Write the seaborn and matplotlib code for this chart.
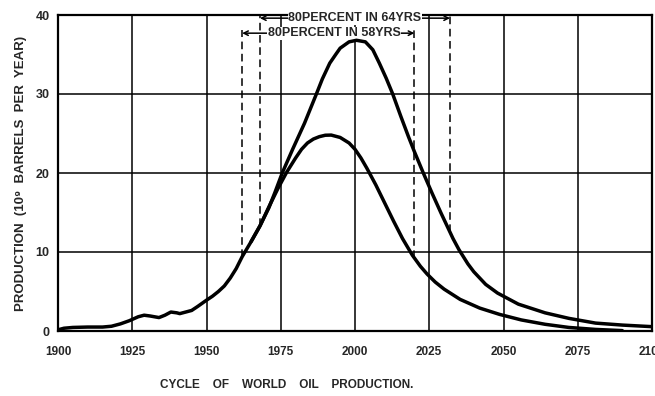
import matplotlib
matplotlib.use("Agg")
import matplotlib.pyplot as plt
import numpy as np
import seaborn as sns

# world production history, shared by both curves (10^9 barrels per year)
hist_years = [1900, 1902, 1905, 1910, 1915, 1918, 1921, 1924, 1927, 1929, 1931, 1934,
              1936, 1938, 1940, 1941, 1943, 1945, 1947, 1950, 1952, 1954, 1956, 1958,
              1960, 1962, 1965]
hist_prod = [0.15, 0.35, 0.45, 0.5, 0.5, 0.6, 0.9, 1.3, 1.8, 2.0, 1.9, 1.7,
             2.0, 2.4, 2.3, 2.2, 2.4, 2.6, 3.1, 3.9, 4.4, 5.0, 5.7, 6.7,
             7.9, 9.4, 11.3]

# larger ultimate resource
high_years = [1968, 1971, 1973, 1975.5, 1979, 1983, 1987, 1989, 1991.5, 1993.5, 1995,
              1998, 2000.5, 2003.5, 2006, 2008.2, 2010.5, 2012.7, 2015.4, 2018, 2020,
              2023, 2026, 2029, 2031, 2033, 2035, 2038, 2040, 2044, 2048, 2055, 2064,
              2072, 2081, 2090, 2100]
high_prod = [13.3, 15.6, 17.5, 20.0, 23.0, 26.3, 30.0, 31.9, 33.9, 35.0, 35.8,
             36.6, 36.8, 36.6, 35.6, 33.9, 32.0, 30.0, 27.2, 24.6, 22.7,
             20.0, 17.4, 14.9, 13.3, 11.7, 10.3, 8.5, 7.5, 5.9, 4.8, 3.4, 2.3,
             1.6, 1.0, 0.75, 0.55]

# smaller ultimate resource
low_years = [1968, 1971, 1974, 1977, 1980, 1982, 1984, 1986, 1988, 1990, 1992, 1995,
             1998, 2000, 2002, 2004, 2007, 2010, 2013, 2016, 2019.3, 2022, 2024.3, 2027,
             2030, 2035.4, 2042, 2048.7, 2056, 2064, 2072, 2081, 2090]
low_prod = [13.3, 15.7, 18.0, 20.1, 21.9, 23.0, 23.8, 24.3, 24.6, 24.78, 24.8, 24.5,
            23.8, 23.0, 21.9, 20.6, 18.5, 16.2, 13.9, 11.7, 9.6, 8.2, 7.2, 6.2,
            5.3, 4.0, 2.9, 2.1, 1.4, 0.85, 0.45, 0.2, 0.05]

# middle 80 percent spans
span_high = (1968, 2032)
span_low = (1962, 2020)
span_high_text = "80PERCENT IN 64YRS"
span_low_text = "80PERCENT IN 58YRS"

x_ticks = list(range(1900, 2101, 25))
y_ticks = [0, 10, 20, 30, 40]

sns.set_style("white")
plt.rcParams["font.family"] = ["Liberation Sans", "DejaVu Sans"]
plt.rcParams["font.weight"] = "bold"

fig = plt.figure(figsize=(6.55, 3.96), dpi=100)
ax = fig.add_axes([58 / 655, 1 - 331 / 396, 594 / 655, 316 / 396])

big_x = hist_years + high_years
big_y = hist_prod + high_prod
small_x = hist_years[-1:] + low_years
small_y = hist_prod[-1:] + low_prod

line_kw = dict(color="black", linewidth=2.5, zorder=5)
sns.lineplot(x=big_x, y=big_y, ax=ax, **line_kw)
sns.lineplot(x=small_x, y=small_y, ax=ax, **line_kw)
for ln in ax.lines:
    ln.set_solid_joinstyle("round")
    ln.set_solid_capstyle("round")

ax.set_xlim(1900, 2100)
ax.set_ylim(0, 40)
ax.set_xticks(x_ticks)
ax.set_yticks(y_ticks)
ax.grid(True, color="black", linewidth=1.1)
ax.set_axisbelow(True)
for side in ax.spines.values():
    side.set_color("black")
    side.set_linewidth(1.6)

ax.tick_params(axis="x", length=0, pad=11, labelsize=8.5)
ax.tick_params(axis="y", length=4, width=1.1, color="black", pad=2, labelsize=9)
for lab in ax.get_xticklabels() + ax.get_yticklabels():
    lab.set_fontweight("bold")

ax.set_xlabel("")
ax.set_ylabel("PRODUCTION  (10\u2079  BARRELS  PER  YEAR)", fontsize=9.5,
              fontweight="bold", labelpad=6)

# dashed markers and brackets for the 80 percent spans
for (x0, x1), level, label, xs, ys, text_x in [
    (span_high, 39.6, span_high_text, (big_x, big_x), (big_y, big_y), 2000),
    (span_low, 37.7, span_low_text, (big_x, small_x), (big_y, small_y), 1993),
]:
    ax.vlines(x0, np.interp(x0, xs[0], ys[0]), level + 0.4, color="black",
              linewidth=1.1, linestyle=(0, (5, 3)), zorder=3)
    ax.vlines(x1, np.interp(x1, xs[1], ys[1]), level + 0.4, color="black",
              linewidth=1.1, linestyle=(0, (5, 3)), zorder=3)
    ax.annotate("", xy=(x0, level), xytext=(x1, level),
                arrowprops=dict(arrowstyle="<->", lw=1.1, color="black",
                                shrinkA=0, shrinkB=0, mutation_scale=8),
                zorder=3)
    ax.text(text_x, level, label, ha="center", va="center", fontsize=9,
            fontweight="bold", zorder=4,
            bbox=dict(facecolor="white", edgecolor="none", pad=0.3))

fig.text(160 / 655, 1 - 385 / 396, "CYCLE    OF    WORLD    OIL    PRODUCTION.",
         ha="left", va="center", fontsize=8.5, fontweight="bold")

fig.savefig("out.png", dpi=100)
plt.close(fig)
